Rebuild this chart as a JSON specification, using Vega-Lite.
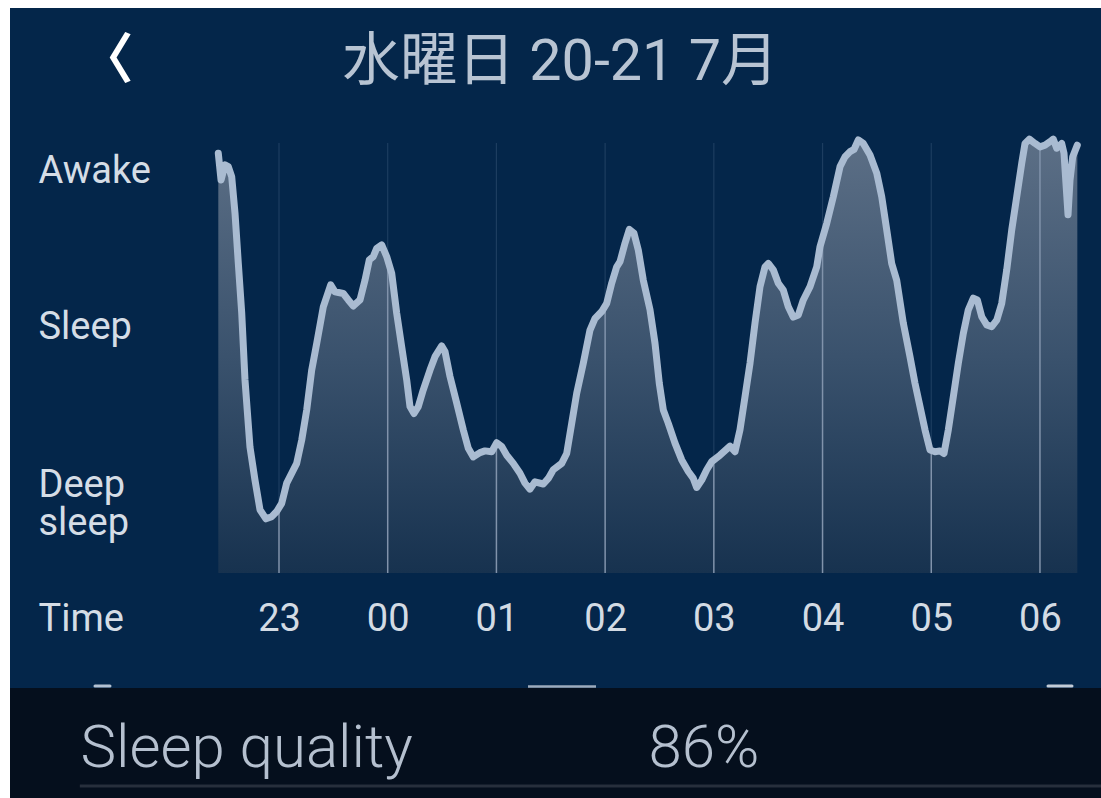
{
  "$schema": "https://vega.github.io/schema/vega-lite/v6.json",
  "background": "#ffffff",
  "padding": {"left": 10, "top": 8, "right": 0, "bottom": 0},
  "spacing": 0,
  "bounds": "flush",
  "config": {
    "view": {"stroke": null},
    "axis": {"grid": false, "ticks": false, "domain": false, "zindex": 1},
    "font": "Roboto"
  },
  "datasets": {
    "sleep": [
      {"time": "2022-07-20T22:26:30", "level": 97.6},
      {"time": "2022-07-20T22:28:00", "level": 91.4},
      {"time": "2022-07-20T22:30:12", "level": 94.9},
      {"time": "2022-07-20T22:32:01", "level": 94.5},
      {"time": "2022-07-20T22:33:53", "level": 92.2},
      {"time": "2022-07-20T22:35:43", "level": 83.7},
      {"time": "2022-07-20T22:37:32", "level": 72.1},
      {"time": "2022-07-20T22:39:25", "level": 60.5},
      {"time": "2022-07-20T22:41:14", "level": 44.9},
      {"time": "2022-07-20T22:43:59", "level": 29.3},
      {"time": "2022-07-20T22:46:45", "level": 21.6},
      {"time": "2022-07-20T22:49:31", "level": 14.7},
      {"time": "2022-07-20T22:52:49", "level": 12.6},
      {"time": "2022-07-20T22:55:58", "level": 13.1},
      {"time": "2022-07-20T22:58:44", "level": 14.3},
      {"time": "2022-07-20T23:01:29", "level": 16.2},
      {"time": "2022-07-20T23:04:15", "level": 20.9},
      {"time": "2022-07-20T23:09:46", "level": 25.5},
      {"time": "2022-07-20T23:12:32", "level": 30.9},
      {"time": "2022-07-20T23:15:17", "level": 37.9},
      {"time": "2022-07-20T23:18:03", "level": 47.2},
      {"time": "2022-07-20T23:20:49", "level": 53.4},
      {"time": "2022-07-20T23:24:27", "level": 61.9},
      {"time": "2022-07-20T23:28:32", "level": 67.0},
      {"time": "2022-07-20T23:30:55", "level": 65.4},
      {"time": "2022-07-20T23:35:29", "level": 65.0},
      {"time": "2022-07-20T23:38:15", "level": 63.5},
      {"time": "2022-07-20T23:41:01", "level": 62.1},
      {"time": "2022-07-20T23:44:43", "level": 63.5},
      {"time": "2022-07-20T23:47:28", "level": 68.1},
      {"time": "2022-07-20T23:49:50", "level": 72.8},
      {"time": "2022-07-20T23:52:03", "level": 73.6},
      {"time": "2022-07-20T23:53:55", "level": 75.5},
      {"time": "2022-07-20T23:56:41", "level": 76.3},
      {"time": "2022-07-20T23:59:26", "level": 73.6},
      {"time": "2022-07-21T00:02:12", "level": 69.7},
      {"time": "2022-07-21T00:04:58", "level": 60.4},
      {"time": "2022-07-21T00:07:43", "level": 52.6},
      {"time": "2022-07-21T00:10:29", "level": 44.9},
      {"time": "2022-07-21T00:12:18", "level": 38.7},
      {"time": "2022-07-21T00:14:31", "level": 37.1},
      {"time": "2022-07-21T00:16:53", "level": 38.7},
      {"time": "2022-07-21T00:19:38", "level": 42.6},
      {"time": "2022-07-21T00:23:20", "level": 47.2},
      {"time": "2022-07-21T00:26:06", "level": 50.3},
      {"time": "2022-07-21T00:29:48", "level": 52.8},
      {"time": "2022-07-21T00:31:37", "level": 51.5},
      {"time": "2022-07-21T00:34:23", "level": 45.7},
      {"time": "2022-07-21T00:38:05", "level": 39.5},
      {"time": "2022-07-21T00:41:43", "level": 33.3},
      {"time": "2022-07-21T00:44:29", "level": 29.0},
      {"time": "2022-07-21T00:47:14", "level": 27.0},
      {"time": "2022-07-21T00:50:56", "level": 28.0},
      {"time": "2022-07-21T00:53:42", "level": 28.4},
      {"time": "2022-07-21T00:57:24", "level": 28.2},
      {"time": "2022-07-21T01:00:10", "level": 30.3},
      {"time": "2022-07-21T01:02:55", "level": 29.4},
      {"time": "2022-07-21T01:05:41", "level": 27.4},
      {"time": "2022-07-21T01:09:19", "level": 25.5},
      {"time": "2022-07-21T01:13:01", "level": 23.2},
      {"time": "2022-07-21T01:15:46", "level": 20.9},
      {"time": "2022-07-21T01:18:32", "level": 19.5},
      {"time": "2022-07-21T01:21:17", "level": 21.2},
      {"time": "2022-07-21T01:25:52", "level": 20.7},
      {"time": "2022-07-21T01:28:38", "level": 22.0},
      {"time": "2022-07-21T01:31:23", "level": 24.0},
      {"time": "2022-07-21T01:36:02", "level": 25.5},
      {"time": "2022-07-21T01:38:47", "level": 27.8},
      {"time": "2022-07-21T01:41:33", "level": 34.8},
      {"time": "2022-07-21T01:44:19", "level": 41.8},
      {"time": "2022-07-21T01:47:57", "level": 48.8},
      {"time": "2022-07-21T01:51:39", "level": 56.5},
      {"time": "2022-07-21T01:54:25", "level": 59.2},
      {"time": "2022-07-21T01:58:07", "level": 60.8},
      {"time": "2022-07-21T02:00:52", "level": 62.7},
      {"time": "2022-07-21T02:03:38", "level": 67.4},
      {"time": "2022-07-21T02:06:23", "level": 71.2},
      {"time": "2022-07-21T02:08:13", "level": 72.4},
      {"time": "2022-07-21T02:10:58", "level": 76.7},
      {"time": "2022-07-21T02:13:20", "level": 79.9},
      {"time": "2022-07-21T02:15:56", "level": 79.0},
      {"time": "2022-07-21T02:18:19", "level": 75.1},
      {"time": "2022-07-21T02:21:04", "level": 68.1},
      {"time": "2022-07-21T02:24:46", "level": 61.2},
      {"time": "2022-07-21T02:27:32", "level": 53.4},
      {"time": "2022-07-21T02:29:54", "level": 44.1},
      {"time": "2022-07-21T02:32:07", "level": 37.9},
      {"time": "2022-07-21T02:34:52", "level": 34.8},
      {"time": "2022-07-21T02:38:34", "level": 30.2},
      {"time": "2022-07-21T02:42:16", "level": 26.3},
      {"time": "2022-07-21T02:45:55", "level": 23.6},
      {"time": "2022-07-21T02:48:40", "level": 22.0},
      {"time": "2022-07-21T02:50:32", "level": 19.9},
      {"time": "2022-07-21T02:53:18", "level": 21.6},
      {"time": "2022-07-21T02:56:04", "level": 24.0},
      {"time": "2022-07-21T02:58:49", "level": 25.9},
      {"time": "2022-07-21T03:03:24", "level": 27.4},
      {"time": "2022-07-21T03:08:55", "level": 29.5},
      {"time": "2022-07-21T03:11:41", "level": 28.2},
      {"time": "2022-07-21T03:14:26", "level": 33.3},
      {"time": "2022-07-21T03:17:12", "level": 41.0},
      {"time": "2022-07-21T03:19:58", "level": 48.8},
      {"time": "2022-07-21T03:22:43", "level": 58.1},
      {"time": "2022-07-21T03:25:29", "level": 66.6},
      {"time": "2022-07-21T03:28:14", "level": 71.2},
      {"time": "2022-07-21T03:30:04", "level": 72.0},
      {"time": "2022-07-21T03:32:49", "level": 70.5},
      {"time": "2022-07-21T03:35:35", "level": 67.4},
      {"time": "2022-07-21T03:38:20", "level": 65.8},
      {"time": "2022-07-21T03:41:06", "level": 61.9},
      {"time": "2022-07-21T03:43:52", "level": 59.5},
      {"time": "2022-07-21T03:46:37", "level": 60.0},
      {"time": "2022-07-21T03:49:23", "level": 63.5},
      {"time": "2022-07-21T03:53:05", "level": 66.6},
      {"time": "2022-07-21T03:56:47", "level": 71.2},
      {"time": "2022-07-21T03:58:36", "level": 75.9},
      {"time": "2022-07-21T04:02:18", "level": 81.3},
      {"time": "2022-07-21T04:05:56", "level": 87.5},
      {"time": "2022-07-21T04:09:38", "level": 94.5},
      {"time": "2022-07-21T04:12:24", "level": 96.8},
      {"time": "2022-07-21T04:15:10", "level": 98.0},
      {"time": "2022-07-21T04:17:22", "level": 98.5},
      {"time": "2022-07-21T04:19:44", "level": 100.7},
      {"time": "2022-07-21T04:22:30", "level": 99.9},
      {"time": "2022-07-21T04:26:12", "level": 97.2},
      {"time": "2022-07-21T04:29:54", "level": 93.0},
      {"time": "2022-07-21T04:32:40", "level": 87.5},
      {"time": "2022-07-21T04:35:25", "level": 79.8},
      {"time": "2022-07-21T04:38:10", "level": 72.0},
      {"time": "2022-07-21T04:40:56", "level": 68.1},
      {"time": "2022-07-21T04:44:35", "level": 58.1},
      {"time": "2022-07-21T04:48:16", "level": 50.3},
      {"time": "2022-07-21T04:51:02", "level": 44.1},
      {"time": "2022-07-21T04:53:47", "level": 38.7},
      {"time": "2022-07-21T04:56:33", "level": 33.3},
      {"time": "2022-07-21T04:59:19", "level": 28.6},
      {"time": "2022-07-21T05:02:04", "level": 28.2},
      {"time": "2022-07-21T05:04:50", "level": 28.4},
      {"time": "2022-07-21T05:07:02", "level": 27.8},
      {"time": "2022-07-21T05:09:25", "level": 33.3},
      {"time": "2022-07-21T05:12:10", "level": 41.0},
      {"time": "2022-07-21T05:14:56", "level": 48.8},
      {"time": "2022-07-21T05:17:41", "level": 55.7},
      {"time": "2022-07-21T05:20:27", "level": 61.2},
      {"time": "2022-07-21T05:23:13", "level": 63.9},
      {"time": "2022-07-21T05:25:25", "level": 63.5},
      {"time": "2022-07-21T05:27:51", "level": 59.6},
      {"time": "2022-07-21T05:30:37", "level": 57.7},
      {"time": "2022-07-21T05:33:22", "level": 57.3},
      {"time": "2022-07-21T05:36:08", "level": 58.8},
      {"time": "2022-07-21T05:38:53", "level": 62.7},
      {"time": "2022-07-21T05:41:39", "level": 70.5},
      {"time": "2022-07-21T05:44:25", "level": 79.8},
      {"time": "2022-07-21T05:47:10", "level": 87.5},
      {"time": "2022-07-21T05:49:56", "level": 95.3},
      {"time": "2022-07-21T05:51:45", "level": 99.9},
      {"time": "2022-07-21T05:54:08", "level": 100.9},
      {"time": "2022-07-21T05:57:16", "level": 99.9},
      {"time": "2022-07-21T06:00:01", "level": 99.1},
      {"time": "2022-07-21T06:02:47", "level": 99.5},
      {"time": "2022-07-21T06:05:32", "level": 100.3},
      {"time": "2022-07-21T06:07:22", "level": 100.9},
      {"time": "2022-07-21T06:09:14", "level": 98.8},
      {"time": "2022-07-21T06:12:00", "level": 99.9},
      {"time": "2022-07-21T06:13:16", "level": 97.6},
      {"time": "2022-07-21T06:15:29", "level": 83.3},
      {"time": "2022-07-21T06:16:35", "level": 91.4},
      {"time": "2022-07-21T06:18:04", "level": 96.8},
      {"time": "2022-07-21T06:20:37", "level": 99.5}
    ],
    "hours": [
      {"time": "2022-07-20T23:00:00", "level": 15.5},
      {"time": "2022-07-21T00:00:00", "level": 72.8},
      {"time": "2022-07-21T01:00:00", "level": 30.3},
      {"time": "2022-07-21T02:00:00", "level": 62.1},
      {"time": "2022-07-21T03:00:00", "level": 26.3},
      {"time": "2022-07-21T04:00:00", "level": 77.9},
      {"time": "2022-07-21T05:00:00", "level": 28.5},
      {"time": "2022-07-21T06:00:00", "level": 99.1}
    ],
    "summary": [
      {"metric": "Sleep quality", "score": 86}
    ]
  },
  "vconcat": [
    {
      "width": 1091,
      "height": 680,
      "view": {"fill": "#04264a", "stroke": null},
      "layer": [
        {
          "data": {"name": "hours"},
          "mark": {"type": "rule", "color": "#1d3d60", "strokeWidth": 1.2},
          "encoding": {
            "x": {
              "field": "time", "type": "temporal",
              "scale": {"domain": [{"year": 2022, "month": 7, "date": 20, "hours": 20, "minutes": 31, "seconds": 32}, {"year": 2022, "month": 7, "date": 21, "hours": 6, "minutes": 33, "seconds": 41}]},
              "axis": {
                "values": [
                  {"year": 2022, "month": 7, "date": 20, "hours": 23},
                  {"year": 2022, "month": 7, "date": 21, "hours": 0},
                  {"year": 2022, "month": 7, "date": 21, "hours": 1},
                  {"year": 2022, "month": 7, "date": 21, "hours": 2},
                  {"year": 2022, "month": 7, "date": 21, "hours": 3},
                  {"year": 2022, "month": 7, "date": 21, "hours": 4},
                  {"year": 2022, "month": 7, "date": 21, "hours": 5},
                  {"year": 2022, "month": 7, "date": 21, "hours": 6}
                ],
                "format": "%H",
                "labelFont": "Roboto",
                "labelFontSize": 38,
                "labelColor": "#d3dbe4",
                "labelPadding": -69,
                "labelBaseline": "middle",
                "labelAlign": "center",
                "labelFlush": false,
                "labelOverlap": false,
                "title": "水曜日 20-21 7月",
                "titleX": 550,
                "titleY": -626,
                "titleAlign": "center",
                "titleBaseline": "middle",
                "titleFont": "Roboto, 'Noto Sans CJK JP'",
                "titleFontSize": 57.5,
                "titleFontWeight": 400,
                "titleColor": "#b8c4d3"
              }
            },
            "y": {
              "datum": 0, "type": "quantitative",
              "scale": {"domain": [-26.744, 131.395], "nice": false, "zero": false},
              "axis": {
                "values": [93.3, 57.2, 20.3, -10.7],
                "labelExpr": "datum.value > 90 ? 'Awake' : datum.value > 50 ? 'Sleep' : datum.value > 0 ? ['Deep', 'sleep'] : 'Time'",
                "labelFont": "Roboto",
                "labelFontSize": 38,
                "labelColor": "#d5dde6",
                "labelAlign": "left",
                "labelBaseline": "middle",
                "labelPadding": -28,
                "labelLineHeight": 38,
                "labelFlush": false,
                "labelOverlap": false,
                "title": "〈",
                "titleAngle": 0,
                "titleX": 96,
                "titleY": 53,
                "titleAlign": "center",
                "titleBaseline": "middle",
                "titleFont": "Noto Sans CJK JP",
                "titleFontWeight": "bold",
                "titleFontSize": 54,
                "titleColor": "#ffffff"
              }
            },
            "y2": {"datum": 100}
          }
        },
        {
          "data": {"name": "sleep"},
          "mark": {
            "type": "area",
            "interpolate": "linear",
            "fill": {
              "gradient": "linear",
              "x1": 0, "y1": 0, "x2": 0, "y2": 1,
              "stops": [
                {"offset": 0, "color": "#5c6f86"},
                {"offset": 0.5, "color": "#3a526d"},
                {"offset": 1, "color": "#17324f"}
              ]
            }
          },
          "encoding": {
            "x": {"field": "time", "type": "temporal"},
            "y": {"field": "level", "type": "quantitative"},
            "y2": {"datum": 0}
          }
        },
        {
          "data": {"name": "hours"},
          "mark": {"type": "rule", "color": "#8193ab", "strokeWidth": 1.5},
          "encoding": {
            "x": {"field": "time", "type": "temporal"},
            "y": {"field": "level", "type": "quantitative"},
            "y2": {"datum": 0}
          }
        },
        {
          "data": {"name": "sleep"},
          "mark": {"type": "line", "color": "#a9bbd1", "strokeWidth": 7, "strokeJoin": "round", "strokeCap": "round", "interpolate": "linear"},
          "encoding": {
            "x": {"field": "time", "type": "temporal"},
            "y": {"field": "level", "type": "quantitative"}
          }
        },
        {
          "data": {"name": "summary"},
          "mark": {"type": "rule", "color": "#b3c1d2", "strokeWidth": 3, "strokeCap": "round"},
          "encoding": {
            "x": {"datum": {"year": 2022, "month": 7, "date": 20, "hours": 21, "minutes": 18, "seconds": 26}, "type": "temporal"},
            "x2": {"datum": {"year": 2022, "month": 7, "date": 20, "hours": 21, "minutes": 26, "seconds": 43}},
            "y": {"datum": -26.3, "type": "quantitative"}
          }
        },
        {
          "data": {"name": "summary"},
          "mark": {"type": "rule", "color": "#9dabbd", "strokeWidth": 2.5},
          "encoding": {
            "x": {"datum": {"year": 2022, "month": 7, "date": 21, "hours": 1, "minutes": 17, "seconds": 26}, "type": "temporal"},
            "x2": {"datum": {"year": 2022, "month": 7, "date": 21, "hours": 1, "minutes": 54, "seconds": 58}},
            "y": {"datum": -26.4, "type": "quantitative"}
          }
        },
        {
          "data": {"name": "summary"},
          "mark": {"type": "rule", "color": "#c3ccd7", "strokeWidth": 3, "strokeCap": "round"},
          "encoding": {
            "x": {"datum": {"year": 2022, "month": 7, "date": 21, "hours": 6, "minutes": 4, "seconds": 26}, "type": "temporal"},
            "x2": {"datum": {"year": 2022, "month": 7, "date": 21, "hours": 6, "minutes": 17, "seconds": 41}},
            "y": {"datum": -26.3, "type": "quantitative"}
          }
        }
      ]
    },
    {
      "width": 1091,
      "height": 110,
      "view": {"fill": "#050f1d", "stroke": null},
      "data": {"name": "summary"},
      "mark": {"type": "rule", "color": "#272f3c", "strokeWidth": 3},
      "encoding": {
        "x": {
          "datum": 6.4, "type": "quantitative",
          "scale": {"domain": [0, 100], "nice": false, "zero": false},
          "axis": {
            "labels": false,
            "title": "Sleep quality",
            "titleX": 70,
            "titleY": -32,
            "titleAlign": "left",
            "titleBaseline": "alphabetic",
            "titleFont": "Roboto",
            "titleFontSize": 60,
            "titleFontWeight": 300,
            "titleColor": "#b5c0cf"
          }
        },
        "x2": {"datum": 100},
        "y": {
          "datum": 0.11, "type": "quantitative",
          "scale": {"domain": [0, 1], "nice": false, "zero": false},
          "axis": {
            "labels": false,
            "title": "86%",
            "titleAngle": 0,
            "titleX": 638,
            "titleY": 78,
            "titleAlign": "left",
            "titleBaseline": "alphabetic",
            "titleFont": "Roboto",
            "titleFontSize": 60,
            "titleFontWeight": 300,
            "titleColor": "#b5c0cf"
          }
        }
      }
    }
  ]
}
